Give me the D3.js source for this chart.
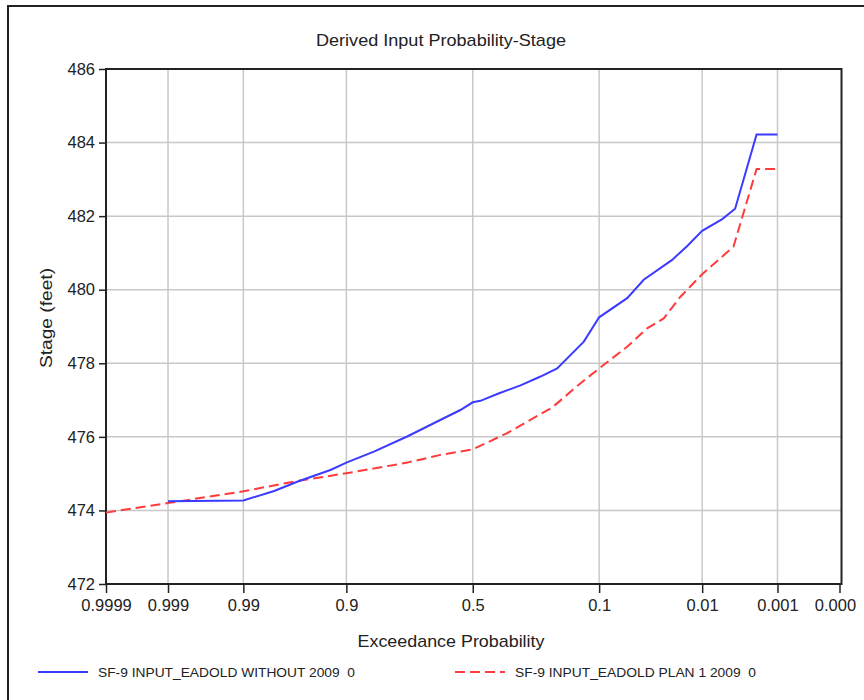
<!DOCTYPE html>
<html>
<head>
<meta charset="utf-8">
<script src="https://cdn.jsdelivr.net/npm/d3@7"></script>
<style>
  html, body { margin: 0; padding: 0; background: #fff; }
  svg { display: block; font-family: "Liberation Sans", Arial, sans-serif; }
</style>
</head>
<body>
<svg id="chart" width="864" height="700"></svg>
<script>
// Probability ticks (normal probability paper) and stage ticks
const xTickValues = [0.9999, 0.999, 0.99, 0.9, 0.5, 0.1, 0.01, 0.001, 0.0001];
const xTickLabels = ["0.9999", "0.999", "0.99", "0.9", "0.5", "0.1", "0.01", "0.001", "0.0001"];
const yTickValues = [472, 474, 476, 478, 480, 482, 484, 486];

// SF-9 INPUT_EADOLD WITHOUT 2009
const withoutProb  = [0.999, 0.99, 0.978, 0.9625, 0.9255, 0.9, 0.842, 0.747, 0.654, 0.55, 0.5, 0.469, 0.397, 0.314, 0.246, 0.196, 0.130, 0.1, 0.0587, 0.0415, 0.0216, 0.0148, 0.01, 0.0057, 0.0039, 0.002, 0.001];
const withoutStage = [474.25, 474.27, 474.53, 474.78, 475.10, 475.30, 475.60, 476.01, 476.37, 476.73, 476.94, 476.98, 477.18, 477.40, 477.64, 477.86, 478.59, 479.25, 479.77, 480.27, 480.81, 481.19, 481.60, 481.92, 482.20, 484.22, 484.22];

// SF-9 INPUT_EADOLD PLAN 1 2009
const planProb  = [0.9999, 0.999, 0.99, 0.9625, 0.9, 0.747, 0.628, 0.5, 0.364, 0.21, 0.137, 0.1, 0.0587, 0.0385, 0.0264, 0.0176, 0.01, 0.00835, 0.0041, 0.002, 0.001];
const planStage = [473.94, 474.20, 474.52, 474.80, 475.01, 475.30, 475.51, 475.66, 476.10, 476.80, 477.46, 477.86, 478.45, 478.95, 479.22, 479.81, 480.42, 480.58, 481.17, 483.28, 483.28];

const seriesNames = ["SF-9 INPUT_EADOLD WITHOUT 2009  0", "SF-9 INPUT_EADOLD PLAN 1 2009  0"];

// Inverse standard normal CDF (Acklam's rational approximation)
function normInv(p) {
  const a = [-3.969683028665376e+01, 2.209460984245205e+02, -2.759285104469687e+02, 1.383577518672690e+02, -3.066479806614716e+01, 2.506628277459239e+00];
  const b = [-5.447609879822406e+01, 1.615858368580409e+02, -1.556989798598866e+02, 6.680131188771972e+01, -1.328068155288572e+01];
  const c = [-7.784894002430293e-03, -3.223964580411365e-01, -2.400758277161838e+00, -2.549732539343734e+00, 4.374664141464968e+00, 2.938163982698783e+00];
  const d = [7.784695709041462e-03, 3.224671290700398e-01, 2.445134137142996e+00, 3.754408661907416e+00];
  const pl = 0.02425, ph = 1 - pl;
  let q, r;
  if (p < pl) {
    q = Math.sqrt(-2 * Math.log(p));
    return (((((c[0]*q+c[1])*q+c[2])*q+c[3])*q+c[4])*q+c[5]) / ((((d[0]*q+d[1])*q+d[2])*q+d[3])*q+1);
  } else if (p <= ph) {
    q = p - 0.5; r = q * q;
    return (((((a[0]*r+a[1])*r+a[2])*r+a[3])*r+a[4])*r+a[5])*q / (((((b[0]*r+b[1])*r+b[2])*r+b[3])*r+b[4])*r+1);
  } else {
    q = Math.sqrt(-2 * Math.log(1 - p));
    return -(((((c[0]*q+c[1])*q+c[2])*q+c[3])*q+c[4])*q+c[5]) / ((((d[0]*q+d[1])*q+d[2])*q+d[3])*q+1);
  }
}
// exceedance probability -> standard normal variate (increases to the right)
const zOf = p => normInv(1 - p);

const svg = d3.select("#chart");
const plot = { left: 106, right: 839.5, top: 69, bottom: 584 };

const zScale = d3.scaleLinear()
  .domain([zOf(0.9999), zOf(0.0001)])
  .range([plot.left, plot.right]);
const x = p => zScale(zOf(p));
const y = d3.scaleLinear().domain([472, 486]).range([plot.bottom, plot.top]);

// outer panel border
svg.append("path")
  .attr("d", "M8,700 V6 H864")
  .attr("fill", "none").attr("stroke", "#222").attr("stroke-width", 2);

svg.append("defs").append("clipPath").attr("id", "panelClip")
  .append("rect").attr("x", 9).attr("y", 7).attr("width", 848).attr("height", 693);

const g = svg.append("g").attr("clip-path", "url(#panelClip)");

// title
g.append("text")
  .attr("x", 441).attr("y", 46)
  .attr("text-anchor", "middle")
  .attr("font-size", 17).attr("fill", "#222")
  .attr("textLength", 250).attr("lengthAdjust", "spacingAndGlyphs")
  .text("Derived Input Probability-Stage");

// grid
const grid = g.append("g").attr("stroke", "#c8c8c8").attr("stroke-width", 1.5);
grid.selectAll(".vg").data(xTickValues.slice(1, -1)).join("line")
  .attr("x1", d => x(d)).attr("x2", d => x(d))
  .attr("y1", plot.top).attr("y2", plot.bottom);
grid.selectAll(".hg").data(yTickValues.slice(1, -1)).join("line")
  .attr("x1", plot.left).attr("x2", plot.right + 2)
  .attr("y1", d => y(d)).attr("y2", d => y(d));

// axes
const xAxis = d3.axisBottom(zScale)
  .tickValues(xTickValues.map(zOf))
  .tickFormat((d, i) => xTickLabels[i])
  .tickSize(9).tickSizeOuter(0).tickPadding(6);
const gx = g.append("g").attr("transform", `translate(0,${plot.bottom})`).call(xAxis);
gx.select(".domain").remove();
gx.selectAll("line").attr("stroke", "#222").attr("stroke-width", 1.5);
gx.selectAll("text").attr("font-size", 16.5).attr("fill", "#222").attr("font-family", null);

const yAxis = d3.axisLeft(y).tickValues(yTickValues).tickFormat(d3.format("d"))
  .tickSize(7).tickSizeOuter(0).tickPadding(4);
const gy = g.append("g").attr("transform", `translate(${plot.left},0)`).call(yAxis);
gy.select(".domain").remove();
gy.selectAll("line").attr("stroke", "#222").attr("stroke-width", 1.5);
gy.selectAll("text").attr("font-size", 16.5).attr("fill", "#222").attr("font-family", null);

// plot frame
g.append("rect")
  .attr("x", plot.left).attr("y", plot.top)
  .attr("width", plot.right + 2 - plot.left).attr("height", plot.bottom - plot.top)
  .attr("fill", "none").attr("stroke", "#222").attr("stroke-width", 2);

// axis titles
g.append("text")
  .attr("x", 451).attr("y", 647)
  .attr("text-anchor", "middle").attr("font-size", 17).attr("fill", "#222")
  .attr("textLength", 187).attr("lengthAdjust", "spacingAndGlyphs")
  .text("Exceedance Probability");
g.append("text")
  .attr("transform", "translate(52,318) rotate(-90)")
  .attr("text-anchor", "middle").attr("font-size", 17).attr("fill", "#222")
  .attr("textLength", 100).attr("lengthAdjust", "spacingAndGlyphs")
  .text("Stage (feet)");

// series
const line = d3.line().x(d => x(d[0])).y(d => y(d[1]));
const withoutData = withoutProb.map((p, i) => [p, withoutStage[i]]);
const planData = planProb.map((p, i) => [p, planStage[i]]);

g.append("path").datum(planData)
  .attr("d", line).attr("fill", "none")
  .attr("stroke", "#ff3b3b").attr("stroke-width", 2)
  .attr("stroke-dasharray", "10,5");
g.append("path").datum(withoutData)
  .attr("d", line).attr("fill", "none")
  .attr("stroke", "#3b3bff").attr("stroke-width", 2);

// legend
const legend = [
  { name: seriesNames[0], color: "#3b3bff", dash: null, x0: 38, len: 257 },
  { name: seriesNames[1], color: "#ff3b3b", dash: "10,5", x0: 455, len: 241 }
];
const lg = g.selectAll(".legend").data(legend).join("g")
  .attr("transform", d => `translate(${d.x0},672)`);
lg.append("line").attr("x1", 0).attr("x2", 50).attr("y1", 0).attr("y2", 0)
  .attr("stroke", d => d.color).attr("stroke-width", 2)
  .attr("stroke-dasharray", d => d.dash);
lg.append("text").attr("x", 60).attr("y", 5)
  .attr("font-size", 13).attr("fill", "#222")
  .attr("xml:space", "preserve").style("white-space", "pre")
  .attr("textLength", d => d.len).attr("lengthAdjust", "spacingAndGlyphs")
  .text(d => d.name);
</script>
</body>
</html>
